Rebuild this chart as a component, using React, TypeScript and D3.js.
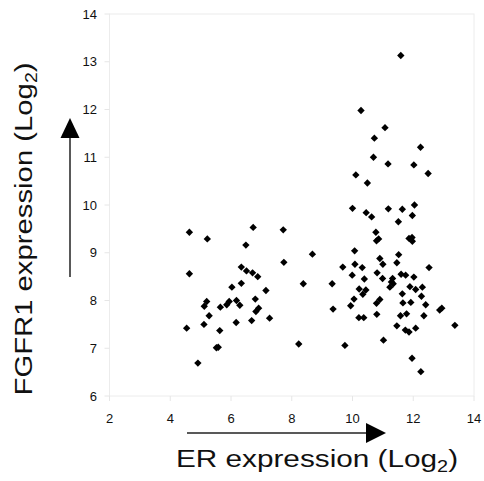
import { useEffect } from 'react'
import * as d3 from 'd3'

// ER expression (x) and FGFR1 expression (y), both log2
const erValues = [
  4.63, 5.22, 6.73, 6.49, 4.63, 6.34, 6.51, 6.71, 6.88, 6.34, 6.03, 7.15, 6.80, 6.18, 5.20, 5.12,
  5.94, 5.86, 5.65, 6.29, 6.91, 6.82, 5.28, 7.27, 4.54, 5.11, 6.17, 6.68, 5.63, 5.52, 5.58, 4.91,
  7.72, 8.68, 7.74, 8.38, 8.23, 9.33, 9.36, 9.68, 9.75,
  11.59, 10.28, 11.07, 10.72, 12.24, 10.69, 11.17, 12.02, 12.49, 10.11, 10.49, 10.00, 10.45, 10.63,
  11.18, 11.64, 11.51, 12.04, 11.97, 10.77, 10.79, 10.86, 11.86, 11.96, 11.97, 10.07, 11.52, 10.90,
  11.00, 11.46, 10.08, 10.32, 9.99, 10.39, 10.81, 10.99, 11.32, 11.60, 11.75, 12.52, 12.02, 11.28,
  11.23, 11.34, 10.22, 10.44, 10.34, 10.05, 9.94, 11.64, 11.66, 10.90, 10.79, 10.80, 10.21, 10.37,
  11.58, 11.46, 11.74, 11.02, 11.89, 12.08, 12.30, 12.27, 11.92, 12.41, 12.94, 12.87, 11.78, 12.35,
  13.37, 11.86, 12.08, 11.96, 12.25,
]
const fgfr1Values = [
  9.43, 9.29, 9.53, 9.16, 8.56, 8.70, 8.62, 8.58, 8.50, 8.36, 8.28, 8.21, 8.03, 8.00, 7.98, 7.88,
  7.98, 7.91, 7.86, 7.90, 7.84, 7.77, 7.68, 7.63, 7.42, 7.50, 7.54, 7.58, 7.37, 7.01, 7.02, 6.69,
  9.48, 8.97, 8.80, 8.35, 7.09, 8.35, 7.82, 8.70, 7.06,
  13.13, 11.98, 11.62, 11.40, 11.21, 11.00, 10.86, 10.84, 10.66, 10.63, 10.46, 9.93, 9.84, 9.75,
  9.92, 9.91, 9.65, 10.00, 9.78, 9.43, 9.25, 9.29, 9.30, 9.32, 9.24, 9.04, 8.96, 8.88,
  8.76, 8.79, 8.76, 8.69, 8.53, 8.45, 8.58, 8.46, 8.46, 8.55, 8.53, 8.69, 8.49, 8.39,
  8.28, 8.35, 8.24, 8.22, 8.13, 8.03, 7.89, 8.14, 7.95, 8.02, 7.94, 7.71, 7.64, 7.64,
  7.68, 7.47, 7.38, 7.17, 8.29, 8.23, 8.28, 8.09, 7.96, 7.91, 7.84, 7.80, 7.72, 7.68,
  7.48, 7.34, 7.42, 6.79, 6.51,
]
const xTicks = [2, 4, 6, 8, 10, 12, 14]
const yTicks = [6, 7, 8, 9, 10, 11, 12, 13, 14]

const font = '"Liberation Sans", Arial, sans-serif'

export default function App() {
  useEffect(() => {
    document.body.style.margin = '0'
  }, [])

  const width = 484
  const height = 481
  const x = d3.scaleLinear().domain([2, 14]).range([109.5, 474])
  const y = d3.scaleLinear().domain([6, 14]).range([396, 14])
  const diamond = d3.symbol().type(d3.symbolSquare).size(27)()

  const points = erValues.map((v, i) => ({ er: v, fgfr1: fgfr1Values[i] }))

  return (
    <svg width={width} height={height} style={{ display: 'block', background: '#fff' }}>
      {/* plot frame, very faint */}
      <rect x={x(2)} y={y(14)} width={x(14) - x(2)} height={y(6) - y(14)}
        fill="none" stroke="#ececec" strokeWidth={1} />

      {/* y axis ticks + labels */}
      {yTicks.map(t => (
        <g key={'y' + t}>
          <line x1={x(2) - 5} x2={x(2)} y1={y(t)} y2={y(t)} stroke="#e6e6e6" />
          <text x={97} y={y(t)} dy="0.36em" textAnchor="end" fontFamily={font} fontSize={13} fill="#111">{t}</text>
        </g>
      ))}

      {/* x axis ticks + labels */}
      {xTicks.map(t => (
        <g key={'x' + t}>
          <line x1={x(t)} x2={x(t)} y1={y(6)} y2={y(6) + 5} stroke="#e6e6e6" />
          <text x={x(t)} y={423} textAnchor="middle" fontFamily={font} fontSize={13} fill="#111">{t}</text>
        </g>
      ))}

      {/* points */}
      {points.map((d, i) => (
        <path key={i} d={diamond ?? ''} fill="#000"
          transform={`translate(${x(d.er)},${y(d.fgfr1)}) rotate(45)`} />
      ))}

      {/* y arrow */}
      <line x1={70} x2={70} y1={277} y2={136} stroke="#222" strokeWidth={1.5} />
      <path d="M70,118 L79.5,138 L60.5,138 Z" fill="#000" />

      {/* x arrow */}
      <line x1={187} x2={367} y1={433} y2={433} stroke="#222" strokeWidth={1.5} />
      <path d="M386,433 L366,423 L366,443 Z" fill="#000" />

      {/* axis titles */}
      <g transform="translate(317,467) scale(1.24,1)">
        <text textAnchor="middle" fontFamily={font} fontSize={24} fill="#111">
          ER expression (Log<tspan fontSize={16} dy={5}>2</tspan><tspan dy={-5}>)</tspan>
        </text>
      </g>
      <g transform="translate(32,229) rotate(-90) scale(1.22,1)">
        <text textAnchor="middle" fontFamily={font} fontSize={24} fill="#111">
          FGFR1 expression (Log<tspan fontSize={16} dy={5}>2</tspan><tspan dy={-5}>)</tspan>
        </text>
      </g>
    </svg>
  )
}
